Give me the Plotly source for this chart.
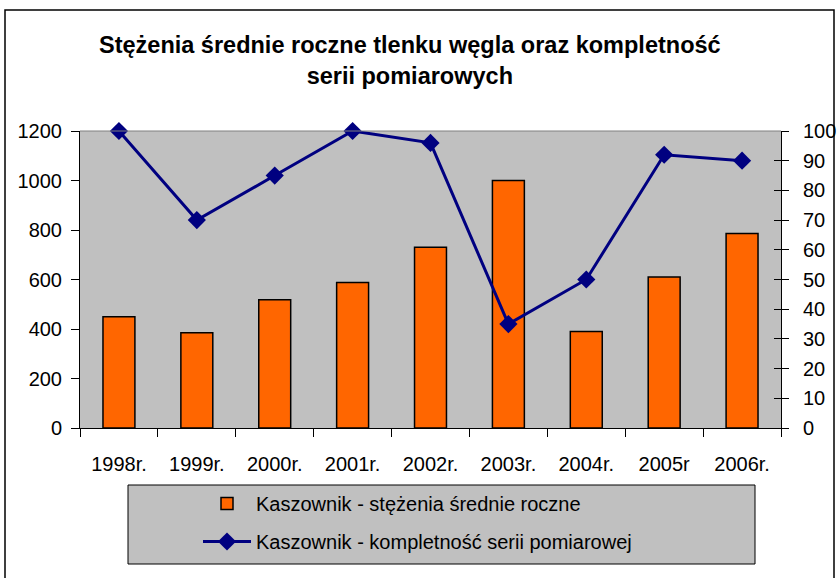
import plotly.graph_objects as go

categories = ["1998r.", "1999r.", "2000r.", "2001r.", "2002r.", "2003r.", "2004r.", "2005r", "2006r."]
stezenia = [450, 385, 518, 588, 730, 1000, 390, 610, 786]
kompletnosc = [100, 70, 85, 100, 96, 35, 50, 92, 90]
left_ticks = [0, 200, 400, 600, 800, 1000, 1200]
right_ticks = [0, 10, 20, 30, 40, 50, 60, 70, 80, 90, 100]

W, H = 837, 578
L, R, T, B = 80, 781, 131, 428  # plot area pixel box
def px(x):
    return (x - L) / (R - L)
def py(y):
    return (B - y) / (B - T)

FONT = "Liberation Sans, Arial, sans-serif"

fig = go.Figure()
fig.add_trace(go.Bar(
    x=categories, y=stezenia, name="Kaszownik - stężenia średnie roczne",
    marker=dict(color="#ff6600", line=dict(color="#000000", width=1.5)),
    legendgroup="a", yaxis="y",
))
fig.add_trace(go.Scatter(
    x=categories, y=kompletnosc, name="Kaszownik - kompletność serii pomiarowej",
    mode="lines+markers", line=dict(color="#000080", width=3),
    marker=dict(symbol="diamond", size=14, color="#000080"),
    legendgroup="b", yaxis="y2", cliponaxis=False,
))
# invisible helper trace for crossing ticks on right axis
fig.add_trace(go.Scatter(
    x=categories, y=kompletnosc, yaxis="y3", mode="lines", opacity=0,
    showlegend=False, hoverinfo="skip",
))

fig.update_layout(
    width=W, height=H,
    margin=dict(l=L, r=W - R, t=T, b=H - B, autoexpand=False),
    paper_bgcolor="#ffffff", plot_bgcolor="#c0c0c0",
    font=dict(family=FONT, size=20, color="#000000"),
    bargap=0.59,
    showlegend=True,
    xaxis=dict(
        type="category", range=[-0.5, len(categories) - 0.5],
        showline=True, linecolor="#000000", linewidth=1,
        ticks="outside", ticklen=8, tickcolor="#000000", tickson="boundaries",
        showgrid=False, zeroline=False, tickfont=dict(size=20),
        ticklabelstandoff=18, automargin=False,
    ),
    yaxis=dict(
        range=[0, 1200], tickvals=left_ticks, showline=True, linecolor="#000000",
        ticks="outside", ticklen=8, tickcolor="#000000", showgrid=False,
        zeroline=False, tickfont=dict(size=20), ticklabelstandoff=5, automargin=False,
    ),
    yaxis2=dict(
        range=[0, 100], tickvals=right_ticks, overlaying="y", side="right",
        showline=True, linecolor="#000000", ticks="outside", ticklen=7,
        tickcolor="#000000", showgrid=False, zeroline=False,
        tickfont=dict(size=20), ticklabelstandoff=10, automargin=False,
    ),
    yaxis3=dict(
        range=[0, 100], tickvals=right_ticks, overlaying="y", side="right",
        showline=False, ticks="inside", ticklen=7, tickcolor="#000000",
        showticklabels=False, showgrid=False, zeroline=False, automargin=False,
    ),
    legend=dict(
        x=px(198), y=py(484), xanchor="left", yanchor="top",
        bgcolor="rgba(0,0,0,0)", borderwidth=0,
        font=dict(size=20), tracegroupgap=9, itemwidth=48,
    ),
    shapes=[
        # outer chart border
        dict(type="rect", xref="paper", yref="paper", x0=px(5), x1=px(834), y0=py(590), y1=py(10),
             line=dict(color="#000000", width=1.5), fillcolor="rgba(0,0,0,0)", layer="below"),
        # plot area top border
        dict(type="line", xref="paper", yref="paper", x0=0, x1=1, y0=1, y1=1,
             line=dict(color="#808080", width=1)),
        # legend box
        dict(type="rect", xref="paper", yref="paper", x0=px(128), x1=px(755), y0=py(564), y1=py(485),
             line=dict(color="#000000", width=1), fillcolor="#c0c0c0", layer="below"),
    ],
    annotations=[
        dict(text="<b>Stężenia średnie roczne tlenku węgla oraz kompletność<br>serii pomiarowych</b>",
             xref="paper", yref="paper", x=px(410), y=py(61), xanchor="center", yanchor="middle",
             showarrow=False, font=dict(size=23.5, family=FONT)),
    ],
)

fig.write_html("out.html", config={"displayModeBar": False},
               post_script="document.body.style.margin='0';document.body.style.overflow='hidden';")
